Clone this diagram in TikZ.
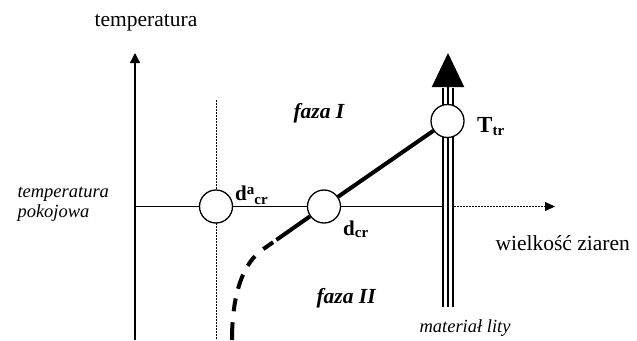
\documentclass[tikz,border=0pt]{standalone}
\usepackage{fontspec}
\setmainfont{Liberation Serif}
\usetikzlibrary{arrows.meta}
\begin{document}
\begin{tikzpicture}[x=1pt,y=-1pt,
  ax/.style={line width=1.3pt},
  dots/.style={line width=1pt,dash pattern=on 1.5pt off 1.5pt},
  circ/.style={circle,draw,fill=white,line width=1.3pt,minimum size=33pt,inner sep=0pt},
  big/.style={font=\fontsize{21.5}{24}\selectfont},
  ital/.style={font=\fontsize{18.5}{20}\selectfont\itshape},
  bl/.style={font=\fontsize{21}{24}\selectfont\bfseries},
  fz/.style={font=\fontsize{21.5}{24}\selectfont\bfseries\itshape},
  thick4/.style={line width=4pt},
  tri/.style={line width=2pt}
  ]
\useasboundingbox (0,0) rectangle (637,340);
% axes
\coordinate (o) at (135,340);
\coordinate (ytop) at (135,53);
\draw[ax,-{Triangle[length=10pt 0 0,width=10pt 0 0]}] (o) -- (ytop);
\coordinate (h0) at (135,206.5);
\coordinate (h1) at (442,206.5);
\coordinate (h2) at (454,206.5);
\coordinate (h3) at (555,206.5);
\draw[ax] (h0) -- (h1);
\draw[dots,-{Triangle[length=10pt 0 0,width=9pt 0 0]}] (h2) -- (h3);
% dotted vertical
\coordinate (v0) at (216,100);
\coordinate (v1) at (216,340);
\draw[dots] (v0) -- (v1);
% bulk material triple line
\coordinate (mb) at (448,307);
\coordinate (mt) at (448,88);
\coordinate (tip) at (448,53);
\draw[tri] ([xshift=-5pt]mb) -- ([xshift=-5pt]mt);
\draw[tri] ([xshift=5pt]mb) -- ([xshift=5pt]mt);
\draw[tri,-{Triangle[length=34pt 0 0,width=32pt 0 0]}] (mb) -- (tip);
% circles
\node[circ] (da) at (216,206.5) {};
\node[circ] (dc) at (324,206.5) {};
\node[circ] (tt) at (447.5,121) {};
% phase boundary
\draw[thick4] (dc) -- (tt);
\coordinate (c1) at (262,250);
\coordinate (c2) at (245,262);
\coordinate (c3) at (232,290);
\coordinate (c4) at (232,340);
\draw[thick4,dash pattern=on 41pt off 4pt on 12pt off 11pt on 12pt off 10pt on 15pt off 10pt on 13pt off 11pt on 20pt]
  (dc) -- (c1) .. controls (c2) and (c3) .. (c4);
% labels
\node[big,anchor=base] (ltemp) at (146,26) {temperatura};
\node[ital,anchor=base west] (lp1) at (14,197) {temperatura};
\node[ital,anchor=base west] (lp2) at (14,217) {pokojowa};
\node[big,anchor=base west] (lw) at (492,250) {wielkość ziaren};
\node[ital,anchor=base west] (lm) at (416,332) {materiał lity};
\node[fz,anchor=base west] (lf1) at (290,118) {faza I};
\node[fz,anchor=base west] (lf2) at (313,303) {faza II};
\node[bl,anchor=base west,inner sep=0pt] (lda) at (235,200) {d\raisebox{6pt}{\fontsize{15}{15}\selectfont a}\raisebox{-4pt}{\fontsize{15}{15}\selectfont cr}};
\node[bl,anchor=base west,inner sep=0pt] (ldc) at (343,235) {d\raisebox{-2.5pt}{\fontsize{15}{15}\selectfont cr}};
\node[anchor=base west,inner sep=0pt,font=\fontsize{23}{26}\selectfont\bfseries] (ltt) at (477,132) {T\raisebox{-3pt}{\fontsize{15}{15}\selectfont tr}};
\end{tikzpicture}
\end{document}
